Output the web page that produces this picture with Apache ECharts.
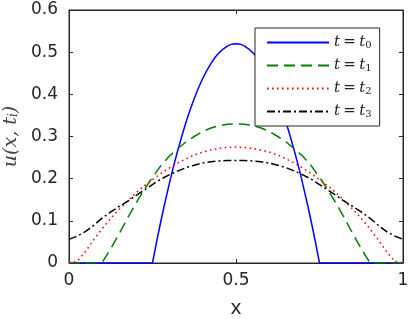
<!DOCTYPE html>
<html>
<head>
<meta charset="utf-8">
<script src="https://cdn.jsdelivr.net/npm/echarts@6/dist/echarts.min.js"></script>
<style>
  html, body { margin: 0; padding: 0; background: #fff; }
  #chart { width: 409px; height: 320px; }
</style>
</head>
<body>
<div id="chart"></div>
<script>
// common x samples 0 .. 1 step 0.025
var xs = [0, 0.025, 0.05, 0.075, 0.1, 0.125, 0.15, 0.175, 0.2, 0.225,
          0.25, 0.275, 0.3, 0.325, 0.35, 0.375, 0.4, 0.425, 0.45, 0.475,
          0.5, 0.525, 0.55, 0.575, 0.6, 0.625, 0.65, 0.675, 0.7, 0.725,
          0.75, 0.775, 0.8, 0.825, 0.85, 0.875, 0.9, 0.925, 0.95, 0.975, 1];

// u(x, t0) is read on a finer grid (sharp cap)
var xs0 = [0, 0.25, 0.2625, 0.275, 0.2875, 0.3, 0.3125, 0.325, 0.3375, 0.35,
           0.3625, 0.375, 0.3875, 0.4, 0.4125, 0.425, 0.4375, 0.45, 0.4625, 0.475,
           0.4875, 0.5, 0.5125, 0.525, 0.5375, 0.55, 0.5625, 0.575, 0.5875, 0.6,
           0.6125, 0.625, 0.6375, 0.65, 0.6625, 0.675, 0.6875, 0.7, 0.7125, 0.725,
           0.7375, 0.75, 1];
var u0 = [0, 0, 0.051, 0.099, 0.144, 0.187, 0.228, 0.265, 0.300, 0.333,
          0.363, 0.390, 0.415, 0.437, 0.456, 0.473, 0.488, 0.499, 0.508, 0.515,
          0.519, 0.520, 0.519, 0.515, 0.508, 0.499, 0.488, 0.473, 0.456, 0.437,
          0.415, 0.390, 0.363, 0.333, 0.300, 0.265, 0.228, 0.187, 0.144, 0.099,
          0.051, 0, 0];
// u(x, t1)
var u1 = [0, 0, 0, 0, 0.002, 0.034, 0.069, 0.106, 0.141, 0.174,
          0.203, 0.231, 0.253, 0.271, 0.287, 0.300, 0.312, 0.320, 0.326, 0.329,
          0.330, 0.329, 0.326, 0.320, 0.312, 0.300, 0.287, 0.271, 0.253, 0.231,
          0.203, 0.174, 0.141, 0.106, 0.069, 0.034, 0.002, 0, 0, 0, 0];
// u(x, t2)
var u2 = [0, 0.004, 0.028, 0.056, 0.082, 0.106, 0.127, 0.147, 0.166, 0.183,
          0.198, 0.212, 0.225, 0.237, 0.247, 0.256, 0.263, 0.268, 0.272, 0.274,
          0.275, 0.274, 0.272, 0.268, 0.263, 0.256, 0.247, 0.237, 0.225, 0.212,
          0.198, 0.183, 0.166, 0.147, 0.127, 0.106, 0.082, 0.056, 0.028, 0.004, 0];
// u(x, t3)
var u3 = [0.056, 0.064, 0.075, 0.090, 0.107, 0.121, 0.134, 0.146, 0.160, 0.173,
          0.186, 0.199, 0.209, 0.218, 0.226, 0.232, 0.237, 0.240, 0.242, 0.243,
          0.243, 0.243, 0.242, 0.240, 0.237, 0.232, 0.226, 0.218, 0.209, 0.199,
          0.186, 0.173, 0.160, 0.146, 0.134, 0.121, 0.107, 0.090, 0.075, 0.064, 0.056];

var names = ['t0', 't1', 't2', 't3'];
var colors = ['#0000ff', '#008000', '#ff0000', '#000000'];
var dashes = ['solid', [11, 6], [1.6, 3.4], [8, 3, 2, 3]];
var xsets = [xs0, xs, xs, xs];
var values = [u0, u1, u2, u3];
// black curve goes on the mirrored (top/right) axes so they get drawn too
var axisIdx = [0, 0, 0, 1];

var axisColor = '#262626';
var serif = '"DejaVu Serif", "Liberation Serif", serif';
var sans = '"DejaVu Sans", "Liberation Sans", sans-serif';

function pairs(xv, ys) {
    var out = [];
    for (var i = 0; i < xv.length; i++) {
        out.push([xv[i], ys[i]]);
    }
    return out;
}

var series = [];
for (var k = 0; k < names.length; k++) {
    series.push({
        name: names[k],
        type: 'line',
        data: pairs(xsets[k], values[k]),
        symbol: 'none',
        xAxisIndex: axisIdx[k],
        yAxisIndex: axisIdx[k],
        lineStyle: { color: colors[k], width: 1.5, type: dashes[k] },
        itemStyle: { color: colors[k] }
    });
}

var myChart = echarts.init(document.getElementById('chart'));
myChart.setOption({
    animation: false,
    grid: {
        left: 69, right: 6, top: 10, bottom: 57,
        outerBoundsMode: 'none',
        show: true, borderColor: axisColor, borderWidth: 1
    },
    legend: {
        orient: 'vertical',
        left: 255,
        top: 28,
        data: names,
        itemWidth: 62,
        itemHeight: 14,
        itemGap: 8,
        itemStyle: { opacity: 0 },
        padding: [7, 8, 7, 11],
        backgroundColor: '#fff',
        borderColor: axisColor,
        borderWidth: 1,
        formatter: function (name) {
            return '{i|t} {e|=} {i|t}{s|' + name.charAt(1) + '}';
        },
        textStyle: {
            color: '#222',
            rich: {
                i: { fontFamily: serif, fontStyle: 'italic', fontSize: 15, color: '#222' },
                e: { fontFamily: serif, fontSize: 15, color: '#222' },
                s: { fontFamily: serif, fontSize: 10, color: '#222', verticalAlign: 'bottom', lineHeight: 10 }
            }
        }
    },
    xAxis: [{
        type: 'value',
        gridIndex: 0,
        min: 0, max: 1, interval: 0.5,
        name: 'x',
        nameLocation: 'middle',
        nameGap: 35,
        nameTextStyle: { fontFamily: '"Liberation Sans", Arial, sans-serif', fontSize: 21, color: axisColor },
        axisLine: { lineStyle: { color: axisColor, width: 1 } },
        axisTick: { inside: true, length: 4, lineStyle: { color: axisColor } },
        axisLabel: { margin: 9, fontFamily: sans, fontSize: 17, color: axisColor },
        splitLine: { show: false }
    }, {
        type: 'value',
        gridIndex: 0,
        position: 'top',
        min: 0, max: 1, interval: 0.5,
        axisLine: { show: true, onZero: false, lineStyle: { color: axisColor, width: 1 } },
        axisTick: { show: true, inside: true, length: 4, lineStyle: { color: axisColor } },
        axisLabel: { show: false },
        splitLine: { show: false }
    }],
    yAxis: [{
        type: 'value',
        gridIndex: 0,
        min: 0, max: 0.6, interval: 0.1,
        name: '{i|u}(x, {i|t}{s|i})',
        nameLocation: 'middle',
        nameRotate: 90,
        nameGap: 46,
        nameTextStyle: {
            fontFamily: serif, fontStyle: 'italic', fontSize: 19, color: '#444',
            rich: {
                i: { fontFamily: serif, fontStyle: 'italic', fontSize: 19, color: '#444' },
                s: { fontFamily: serif, fontStyle: 'italic', fontSize: 12, color: '#444', verticalAlign: 'bottom', lineHeight: 12 }
            }
        },
        axisLine: { show: true, lineStyle: { color: axisColor, width: 1 } },
        axisTick: { show: true, inside: true, length: 4, lineStyle: { color: axisColor } },
        axisLabel: { margin: 11, fontFamily: sans, fontSize: 17, color: axisColor },
        splitLine: { show: false }
    }, {
        type: 'value',
        gridIndex: 0,
        position: 'right',
        min: 0, max: 0.6, interval: 0.1,
        axisLine: { show: true, onZero: false, lineStyle: { color: axisColor, width: 1 } },
        axisTick: { show: true, inside: true, length: 4, lineStyle: { color: axisColor } },
        axisLabel: { show: false },
        splitLine: { show: false }
    }],
    series: series
});
</script>
</body>
</html>
